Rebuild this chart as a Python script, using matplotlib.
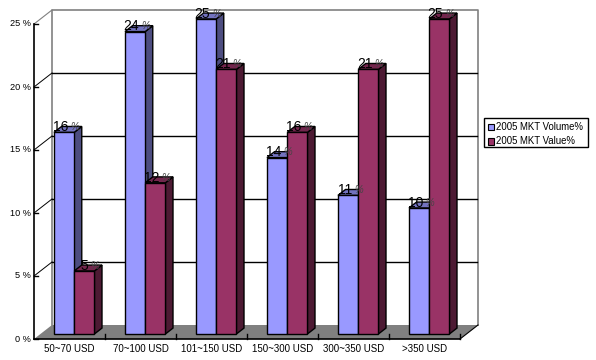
import numpy as np
import matplotlib
matplotlib.use('Agg')
import matplotlib.pyplot as plt
from matplotlib.patches import Polygon, Rectangle

plt.rcParams['font.family'] = ['Liberation Sans', 'DejaVu Sans']

categories = ['50~70 USD', '70~100 USD', '101~150 USD', '150~300 USD', '300~350 USD', '>350 USD']
volume = [16, 24, 25, 14, 11, 10]
value = [5, 12, 21, 16, 21, 25]
yticks = [0, 5, 10, 15, 20, 25]
series_names = ['2005 MKT Volume%', '2005 MKT Value%']

# face, top, side colours for the fake 3d bars
volume_cols = ('#9999ff', '#7373bf', '#4d4d80')
value_cols = ('#993366', '#73264d', '#4d1a33')

W, H = 596, 360
fig = plt.figure(figsize=(W/100, H/100), dpi=100, facecolor='white')
# front plane of the chart
left, right, bottom, top = 34, 460, 339, 24
ax = fig.add_axes([left/W, 1-bottom/H, (right-left)/W, (bottom-top)/H])
ax.set_xlim(0, 6)
ax.set_ylim(0, 25)
ax.axis('off')

# depth of the box, in data units
dx = 18/71
dy = 14/12.6
d0, d1 = 0.36, 0.78
width = 0.285


def oblique(x, y, d):
    return (x + dx*d, y + dy*d)


def poly(pts, fc, ec='black', lw=1.0, z=2):
    ax.add_patch(Polygon(pts, closed=True, fc=fc, ec=ec, lw=lw, zorder=z, clip_on=False, joinstyle='miter'))


# floor
poly([oblique(0, 0, 0), oblique(6, 0, 0), oblique(6, 0, 1), oblique(0, 0, 1)], '#808080', ec='none', z=1)

# walls
ax.plot([dx, dx, 6+dx, 6+dx], [dy, 25+dy, 25+dy, dy], color='#808080', lw=1.2, zorder=1, clip_on=False)
ax.plot([0, dx], [25, 25+dy], color='#808080', lw=0.8, zorder=1, clip_on=False)
ax.plot([6, 6+dx], [0, dy], color='black', lw=0.8, zorder=1, clip_on=False)

# gridlines on back wall, with the little slanted bit on the side wall
for t in yticks[1:-1]:
    ax.plot([dx, 6+dx-0.02], [t+dy, t+dy], color='black', lw=1.0, zorder=1, clip_on=False)
    ax.plot([0, dx], [t, t+dy], color='black', lw=0.7, zorder=1, clip_on=False)

# front axes
ax.plot([0, 0], [0, 25], color='black', lw=1.2, zorder=5, clip_on=False)
ax.plot([0, 6], [0, 0], color='black', lw=1.2, zorder=5, clip_on=False)
for t in yticks:
    ax.plot([0, 0.06], [t, t], color='black', lw=1.0, zorder=5, clip_on=False)
    ax.text(-0.04, t, '%d %%' % t, ha='right', va='center', fontsize=6.6, zorder=6, clip_on=False)
# category ticks point up into the floor
for i in range(1, 7):
    ax.plot([i, i], [0, 0.4], color='black', lw=1.0, zorder=1.5, clip_on=False)
for i, c in enumerate(categories):
    ax.text(i+0.5, -0.42, c, ha='center', va='top', fontsize=7, zorder=6, clip_on=False)


def bar3d(x, h, cols):
    w = width
    poly([oblique(x+w, 0, d0), oblique(x+w, 0, d1), oblique(x+w, h, d1), oblique(x+w, h, d0)], cols[2], z=3)
    poly([oblique(x, h, d0), oblique(x+w, h, d0), oblique(x+w, h, d1), oblique(x, h, d1)], cols[1], z=3)
    poly([oblique(x, 0, d0), oblique(x+w, 0, d0), oblique(x+w, h, d0), oblique(x, h, d0)], cols[0], z=3)


def bar_label(x, h):
    # data label sits on the top of the bar, big digits and a thin percent sign
    tx, ty = oblique(x+width/2, h, d1)
    ax.text(tx-0.05, ty-0.05, '%d' % h, ha='right', va='center', fontsize=10, zorder=7, clip_on=False)
    ax.text(tx-0.02, ty-0.05, '%', ha='left', va='center', fontsize=7, style='italic',
            color='#444444', zorder=7, clip_on=False)


for i in range(6):
    x0 = i + 0.19
    bar3d(x0, volume[i], volume_cols)
    bar3d(x0+width, value[i], value_cols)
for i in range(6):
    x0 = i + 0.19
    bar_label(x0, volume[i])
    bar_label(x0+width, value[i])

# legend box drawn in figure fractions
lx0, ly0, lx1, ly1 = 484.5, 118.5, 588.5, 147
fig.add_artist(Rectangle((lx0/W, 1-ly1/H), (lx1-lx0)/W, (ly1-ly0)/H, transform=fig.transFigure,
                         fc='white', ec='black', lw=1.0))
for name, col, yy in zip(series_names, [volume_cols[0], value_cols[0]], [126.5, 141.5]):
    fig.add_artist(Rectangle((487.5/W, 1-(yy+3)/H), 6/W, 6/H, transform=fig.transFigure,
                             fc=col, ec='black', lw=0.8))
    fig.text(495.5/W, 1-yy/H, name, ha='left', va='center', fontsize=6.9)

fig.savefig('out.png', dpi=100)
